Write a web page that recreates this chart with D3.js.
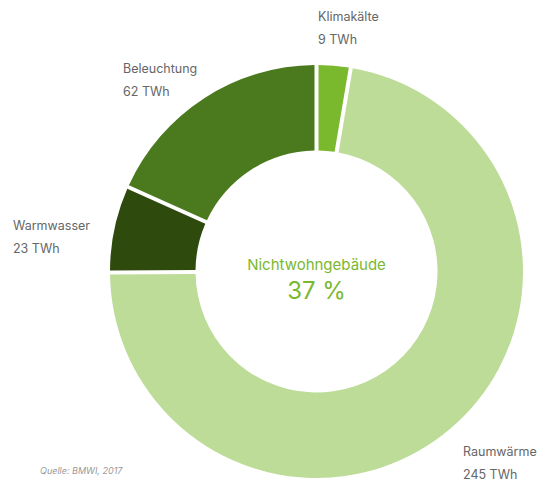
<!DOCTYPE html>
<html lang="de">
<head>
    <meta charset="UTF-8">
    <script src="https://cdn.jsdelivr.net/npm/d3@7"></script>
    <style>
        * { margin: 0; padding: 0; box-sizing: border-box; }
        body { background: white; font-family: Inter, "Noto Sans", sans-serif; }
    </style>
</head>
<body>
    <svg width="555" height="482"></svg>
    <script>
        let categories = ['Klimakälte', 'Raumwärme', 'Warmwasser', 'Beleuchtung']
        let values = [9, 245, 23, 62]
        let units = ['9 TWh', '245 TWh', '23 TWh', '62 TWh']
        let colors = ['#7ab82e', '#bcdc97', '#2e4a0d', '#4b7a1e']

        let centerTitle = 'Nichtwohngebäude'
        let centerValue = '37 %'
        let source = 'Quelle: BMWI, 2017'

        // label anchor points (layout, not data)
        let labelPos = [[318, 21], [463, 456], [13, 230], [123, 73]]

        let cx = 316.5, cy = 271.5
        let rOuter = 206.5, rInner = 121

        let svg = d3.select('svg')

        let pie = d3.pie().sort(null).value(d => d)
        let arc = d3.arc()
            .innerRadius(rInner)
            .outerRadius(rOuter)
            .padAngle(4 / Math.sqrt(rInner * rInner + rOuter * rOuter))

        let g = svg.append('g').attr('transform', `translate(${cx}, ${cy})`)

        g.selectAll('path')
            .data(pie(values))
            .join('path')
            .attr('d', arc)
            .attr('fill', (d, i) => colors[i])

        g.append('text')
            .attr('text-anchor', 'middle')
            .attr('y', -2)
            .attr('font-size', 15)
            .attr('fill', '#7ab82e')
            .text(centerTitle)

        g.append('text')
            .attr('text-anchor', 'middle')
            .attr('y', 27)
            .attr('font-size', 24)
            .attr('fill', '#7ab82e')
            .text(centerValue)

        let labels = svg.selectAll('g.label')
            .data(categories)
            .join('g')
            .attr('class', 'label')
            .attr('transform', (d, i) => `translate(${labelPos[i][0]}, ${labelPos[i][1]})`)

        labels.append('text')
            .attr('font-size', 12.5)
            .attr('fill', '#666')
            .text(d => d)

        labels.append('text')
            .attr('y', 23)
            .attr('font-size', 12.5)
            .attr('fill', '#666')
            .text((d, i) => units[i])

        svg.append('text')
            .attr('x', 40)
            .attr('y', 474)
            .attr('font-size', 9)
            .attr('font-style', 'italic')
            .attr('fill', '#999')
            .text(source)
    </script>
</body>
</html>
